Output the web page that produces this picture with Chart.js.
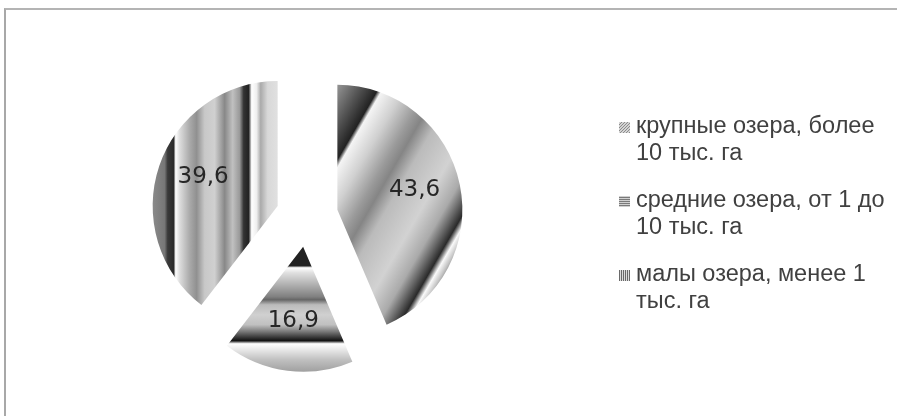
<!DOCTYPE html>
<html>
<head>
<meta charset="utf-8">
<script src="https://cdn.jsdelivr.net/npm/chart.js@4/dist/chart.umd.min.js"></script>
<style>
  html, body { margin: 0; padding: 0; background: #fff; overflow: hidden; }
  #wrap { position: relative; width: 897px; height: 416px; }
  #frame { position: absolute; left: 4px; top: 8px; right: -10px; bottom: -10px;
           border-top: 2px solid #b4b4b4; border-left: 2px solid #a8a8a8; }
  #c { position: absolute; left: 0; top: 0; }
</style>
</head>
<body>
<div id="wrap">
  <div id="frame"></div>
  <canvas id="c" width="897" height="416"></canvas>
</div>
<script>
// Lake categories and their share, %
const categories = [
  'крупные озера, более 10 тыс. га',
  'средние озера, от 1 до 10 тыс. га',
  'малы озера, менее 1 тыс. га'
];
const shares = [43.6, 16.9, 39.6];

// Metallic banded fills: axis angle (deg) and colour stops across the slice diameter
const fills = [
  { angle: 30, stops: [
    [0, '#9a9a9a'], [0.25, '#959595'], [0.40, '#222'], [0.416, '#f4f4f4'], [0.49, '#d0d0d0'],
    [0.57, '#9a9a9a'], [0.61, '#858585'], [0.67, '#bbb'], [0.79, '#d2d2d2'], [0.87, '#aaa'],
    [0.91, '#666'], [0.944, '#2a2a2a'], [0.968, '#fafafa'], [0.99, '#c8c8c8'], [1, '#aaa'] ] },
  { angle: 90, stops: [
    [0, '#222'], [0.576, '#222'], [0.584, '#fff'], [0.604, '#e0e0e0'], [0.652, '#b0b0b0'],
    [0.70, '#808080'], [0.712, '#666'], [0.732, '#bbb'], [0.772, '#d0d0d0'], [0.812, '#c0c0c0'],
    [0.84, '#777'], [0.864, '#333'], [0.876, '#111'], [0.888, '#fff'], [0.912, '#e8e8e8'],
    [0.952, '#c0c0c0'], [1, '#a0a0a0'] ] },
  { angle: 0, stops: [
    [0, '#8a8a8a'], [0.048, '#777'], [0.06, '#3a3a3a'], [0.084, '#2a2a2a'], [0.092, '#fff'],
    [0.108, '#ddd'], [0.148, '#aaa'], [0.176, '#909090'], [0.208, '#c8c8c8'], [0.248, '#d0d0d0'],
    [0.288, '#888'], [0.32, '#c0c0c0'], [0.348, '#999'], [0.364, '#333'], [0.384, '#222'],
    [0.396, '#fff'], [0.416, '#eee'], [0.432, '#aaa'], [0.46, '#d8d8d8'], [0.5, '#e0e0e0'], [1, '#ccc'] ] }
];

// Legend swatches: hatch direction, base and line colours
const swatches = [
  { dir: 'diag', base: '#d4d4d4', line: '#8c8c8c' },
  { dir: 'horiz', base: '#d0d0d0', line: '#7a7a7a' },
  { dir: 'vert', base: '#dcdcdc', line: '#6a6a6a' }
];

const EXPLODE = 31;          // distance each slice is pulled out of the pie, px
const LABEL_POS = 0.63;      // value label position as a fraction of the radius

function makeGradient(ctx, cx, cy, r, fill) {
  const a = fill.angle * Math.PI / 180;
  const dx = Math.cos(a) * r, dy = Math.sin(a) * r;
  const g = ctx.createLinearGradient(cx - dx, cy - dy, cx + dx, cy + dy);
  fill.stops.forEach(([t, c]) => g.addColorStop(t, c));
  return g;
}

function drawSwatch(ctx, x, y, w, h, sw) {
  ctx.save();
  ctx.beginPath();
  ctx.rect(x, y, w, h);
  ctx.clip();
  ctx.fillStyle = sw.base;
  ctx.fillRect(x, y, w, h);
  ctx.strokeStyle = sw.line;
  ctx.lineWidth = 1;
  ctx.beginPath();
  if (sw.dir === 'horiz') {
    for (let yy = y + 1.5; yy < y + h; yy += 2) { ctx.moveTo(x, yy); ctx.lineTo(x + w, yy); }
  } else if (sw.dir === 'vert') {
    for (let xx = x + 0.5; xx < x + w; xx += 2) { ctx.moveTo(xx, y); ctx.lineTo(xx, y + h); }
  } else {
    for (let k = -h; k < w; k += 3) { ctx.moveTo(x + k, y + h); ctx.lineTo(x + k + h, y); }
  }
  ctx.stroke();
  ctx.restore();
}

function wrapText(ctx, text, maxW) {
  const words = text.split(' ');
  const lines = [];
  let cur = '';
  words.forEach(w => {
    const test = cur ? cur + ' ' + w : w;
    if (cur && ctx.measureText(test).width > maxW) { lines.push(cur); cur = w; }
    else cur = test;
  });
  if (cur) lines.push(cur);
  return lines;
}

// Pull every slice outward along its bisector
const explodeSlices = {
  id: 'explodeSlices',
  afterDatasetUpdate(chart, args) {
    args.meta.data.forEach(arc => {
      const mid = (arc.startAngle + arc.endAngle) / 2;
      arc.x += Math.cos(mid) * EXPLODE;
      arc.y += Math.sin(mid) * EXPLODE;
    });
  }
};

// Banded gradient fills anchored to each slice
const bandedFill = {
  id: 'bandedFill',
  beforeDatasetsDraw(chart) {
    const ctx = chart.ctx;
    chart.getDatasetMeta(0).data.forEach((arc, i) => {
      arc.options.backgroundColor = makeGradient(ctx, arc.x, arc.y, arc.outerRadius, fills[i]);
    });
  }
};

// Value labels inside the slices
const valueLabels = {
  id: 'valueLabels',
  afterDatasetsDraw(chart) {
    const ctx = chart.ctx;
    const values = chart.data.datasets[0].data;
    ctx.save();
    ctx.font = '23px "DejaVu Sans"';
    ctx.fillStyle = '#262626';
    ctx.textAlign = 'center';
    ctx.textBaseline = 'middle';
    chart.getDatasetMeta(0).data.forEach((arc, i) => {
      const mid = (arc.startAngle + arc.endAngle) / 2;
      const r = arc.outerRadius * LABEL_POS;
      ctx.fillText(String(values[i]).replace('.', ','),
                   arc.x + Math.cos(mid) * r, arc.y + Math.sin(mid) * r - 4);
    });
    ctx.restore();
  }
};

// Legend to the right of the pie, with wrapped labels
const sideLegend = {
  id: 'sideLegend',
  afterDraw(chart) {
    const ctx = chart.ctx;
    const area = chart.chartArea;
    const x0 = area.right + 62;
    let y = 127;
    ctx.save();
    ctx.font = '23.5px "Liberation Sans"';
    ctx.textBaseline = 'middle';
    chart.data.labels.forEach((label, i) => {
      const lines = wrapText(ctx, label, 256);
      drawSwatch(ctx, x0, y - 5, 11, 11, swatches[i]);
      ctx.fillStyle = '#404040';
      lines.forEach((ln, k) => ctx.fillText(ln, x0 + 17, y + k * 27));
      y += 74;
    });
    ctx.restore();
  }
};

new Chart(document.getElementById('c'), {
  type: 'pie',
  data: {
    labels: categories,
    datasets: [{
      data: shares,
      backgroundColor: ['#aaa', '#aaa', '#aaa'],
      borderWidth: 0,
      radius: 125
    }]
  },
  options: {
    responsive: false,
    animation: false,
    events: [],
    layout: { padding: { left: 57, right: 340, top: 16, bottom: 0 } },
    plugins: { legend: { display: false }, tooltip: { enabled: false } }
  },
  plugins: [explodeSlices, bandedFill, valueLabels, sideLegend]
});
</script>
</body>
</html>
